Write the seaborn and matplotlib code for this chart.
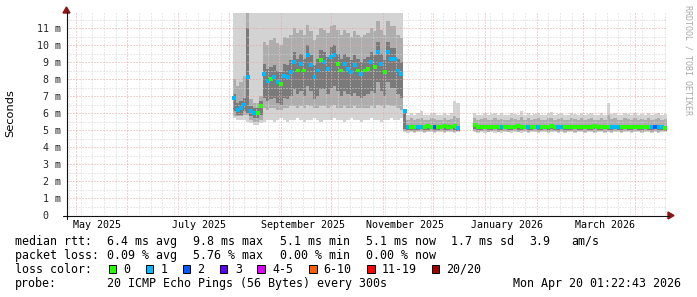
import numpy as np
import pandas as pd
import matplotlib
matplotlib.use("Agg")
import matplotlib.pyplot as plt
import matplotlib.dates as mdates
from matplotlib.ticker import MultipleLocator
from matplotlib.patches import Rectangle, Polygon
from matplotlib.lines import Line2D
import seaborn as sns

# ---------------- data ----------------
bin_start = "2025-08-03"      # first 2-day RRD bin with data
bin_days = 2
x_start = "2025-04-25 20:00"
x_end = "2026-04-20 01:22:43"
nan = np.nan

median_ms = [
    6.9, 6.2, 6.3, 6.5, 8.1, 6.1, 6.0, 6.0, 6.4, 8.3,
    7.9, 8.0, 8.1, 7.8, 7.7, 8.2, 8.1, 8.4, 9.0, 8.5,
    8.9, 8.5, 9.4, 8.8, 8.1, 8.5, 9.1, 9.0, 8.6, 9.3,
    9.4, 8.9, 8.5, 8.9, 8.6, 8.4, 8.8, 8.5, 8.3, 8.5,
    8.6, 9.0, 8.7, 9.6, 8.9, 8.4, 9.6, 9.2, 9.2, 8.5,
    8.3, 6.1,
    5.2, 5.15, 5.2, 5.15, 5.2, 5.2, 5.25, 5.2, 5.15, 5.2, 5.2, 5.25, 5.2, 5.2, 5.25, 5.1,
    nan, nan, nan, nan,
    5.3, 5.2, 5.15, 5.2, 5.2, 5.15, 5.2, 5.2, 5.15, 5.2,
    5.2, 5.15, 5.2, 5.25, 5.2, 5.2, 5.15, 5.2, 5.2, 5.2,
    5.15, 5.2, 5.2, 5.25, 5.2, 5.15, 5.2, 5.2, 5.2, 5.15,
    5.2, 5.2, 5.2, 5.15, 5.2, 5.2, 5.25, 5.2, 5.2, 5.15,
    5.2, 5.2, 5.2, 5.15, 5.2, 5.2, 5.2, 5.2, 5.15, 5.2,
    5.2, 5.2, 5.15, 5.2, 5.2, 5.2, 5.15, 5.1,
]

loss_pings = [
    1, 1, 1, 1, 1, 1, 1, 0, 0, 1,
    1, 0, 1, 1, 0, 1, 1, 1, 1, 0,
    1, 0, 1, 1, 1, 1, 0, 1, 1, 1,
    1, 0, 0, 1, 1, 1, 1, 0, 1, 0,
    0, 1, 0, 1, 1, 0, 1, 1, 1, 1,
    1, 1,
    1, 0, 0, 1, 1, 0, 0, 0, 2, 0, 0, 0, 0, 0, 0, 1,
    0, 0, 0, 0,
    0, 0, 0, 0, 0, 0, 0, 0, 1, 0,
    0, 0, 0, 0, 0, 0, 1, 0, 0, 1,
    0, 0, 0, 0, 0, 1, 1, 0, 0, 0,
    0, 0, 0, 0, 0, 0, 0, 0, 0, 0,
    0, 1, 1, 1, 0, 0, 0, 0, 0, 0,
    0, 0, 0, 1, 2, 1, 1, 0,
]

smoke_lo = [
    5.7, 5.6, 5.6, 5.6, 5.5, 5.4, 5.3, 5.3, 5.4,
    5.5, 5.6, 5.6, 5.5, 5.6, 5.7, 5.6, 5.5, 5.6, 5.6,
    5.7, 5.6, 5.5, 5.6, 5.6, 5.7, 5.6, 5.5, 5.6, 5.6,
    5.6, 5.7, 5.6, 5.6, 5.5, 5.6, 5.7, 5.6, 5.6, 5.5,
    5.6, 5.6, 5.7, 5.6, 5.6, 5.5, 5.6, 5.6, 5.7, 5.6,
    5.6, 5.7,
    4.9,
    4.85, 4.9, 4.85, 4.9, 4.9, 4.85, 4.9, 4.9, 4.85, 4.9, 4.9, 4.85, 4.9, 4.9, 4.85, 4.9,
    nan, nan, nan, nan,
    4.9, 4.85, 4.9, 4.85, 4.9, 4.9, 4.85, 4.9, 4.85, 4.9,
    4.9, 4.85, 4.9, 4.9, 4.85, 4.9, 4.85, 4.9, 4.9, 4.85,
    4.9, 4.9, 4.85, 4.9, 4.9, 4.85, 4.9, 4.85, 4.9, 4.9,
    4.85, 4.9, 4.9, 4.85, 4.9, 4.9, 4.85, 4.9, 4.9, 4.85,
    4.9, 4.85, 4.9, 4.9, 4.85, 4.9, 4.9, 4.85, 4.9, 4.9,
    4.85, 4.9, 4.9, 4.85, 4.9, 4.85, 4.9, 4.9,
]

smoke_hi = [
    12.5, 12.5, 12.5, 12.5, 12.5, 12.5, 12.5, 12.5, 12.5, 12.5,
    12.5, 12.5, 12.5, 12.5, 12.5, 12.5, 12.5, 12.5, 12.5, 12.5,
    12.5, 12.5, 12.5, 12.5, 12.5, 12.5, 12.5, 12.5, 12.5, 12.5,
    12.5, 12.5, 12.5, 12.5, 12.5, 12.5, 12.5, 12.5, 12.5, 12.5,
    12.5, 12.5, 12.5, 12.5, 12.5, 12.5, 12.5, 12.5, 12.5, 12.5,
    12.5, 6.2,
    5.9, 6.0, 5.9, 6.0, 6.1, 5.9, 5.9, 6.0, 6.0, 5.9, 5.9, 6.0, 5.9, 6.0, 6.7, 6.6,
    nan, nan, nan, nan,
    6.0, 5.9, 5.9, 6.0, 5.9, 5.95, 6.0, 5.9, 6.0, 5.9,
    5.9, 6.0, 5.95, 5.9, 6.1, 5.9, 6.0, 5.9, 5.95, 6.0,
    5.9, 5.9, 6.0, 6.05, 5.9, 5.95, 6.0, 5.9, 5.9, 6.0,
    5.95, 5.9, 6.0, 5.9, 5.95, 6.0, 5.9, 5.9, 6.0, 5.9,
    6.6, 5.95, 6.0, 5.9, 5.9, 6.0, 5.95, 5.9, 6.0, 5.9,
    5.95, 5.9, 6.0, 5.9, 5.95, 6.0, 5.9, 5.95,
]

mid_lo = [
    5.8, 5.8, 5.8, 5.9, 5.9, 5.6, 5.5, 5.5, 5.6,
    6.3, 6.2, 6.3, 6.3, 6.2, 6.2, 6.3, 6.3, 6.4, 6.4,
    6.3, 6.4, 6.3, 6.5, 6.4, 6.3, 6.3, 6.4, 6.4, 6.3,
    6.4, 6.5, 6.3, 6.3, 6.4, 6.3, 6.3, 6.4, 6.3, 6.3,
    6.3, 6.3, 6.4, 6.3, 6.5, 6.4, 6.3, 6.5, 6.4, 6.4,
    6.3, 6.2,
    4.95,
    4.95, 4.95, 4.9, 4.95, 4.95, 4.9, 4.95, 4.95, 4.9, 4.95, 4.95, 4.9, 4.95, 4.95, 4.9, 4.95,
    nan, nan, nan, nan,
    4.95, 4.9, 4.95, 4.95, 4.9, 4.95, 4.95, 4.9, 4.95, 4.95,
    4.9, 4.95, 4.95, 4.9, 4.95, 4.95, 4.9, 4.95, 4.95, 4.9,
    4.95, 4.95, 4.9, 4.95, 4.95, 4.9, 4.95, 4.9, 4.95, 4.95,
    4.9, 4.95, 4.95, 4.9, 4.95, 4.95, 4.9, 4.95, 4.95, 4.9,
    4.95, 4.9, 4.95, 4.95, 4.9, 4.95, 4.95, 4.9, 4.95, 4.95,
    4.9, 4.95, 4.95, 4.9, 4.95, 4.9, 4.95, 4.95,
]

mid_hi = [
    8.0, 7.6, 7.8, 8.2, 11.9, 6.8, 6.6, 6.6, 7.0,
    10.2, 10.0, 10.3, 10.4, 10.1, 10.0, 10.5, 10.4, 10.6, 11.0,
    10.7, 10.9, 10.6, 11.2, 10.8, 10.3, 10.6, 11.0, 10.9, 10.7,
    11.1, 11.2, 10.9, 10.6, 10.9, 10.7, 10.5, 10.8, 10.6, 10.5,
    10.6, 10.7, 11.0, 10.8, 11.4, 10.9, 10.6, 11.4, 11.1, 11.1,
    10.6, 10.4,
    6.15,
    5.6, 5.7, 5.6, 5.65, 5.7, 5.6, 5.6, 5.7, 5.65, 5.6, 5.6, 5.7, 5.6, 5.65, 5.8, 5.7,
    nan, nan, nan, nan,
    5.7, 5.6, 5.65, 5.7, 5.6, 5.6, 5.7, 5.6, 5.65, 5.6,
    5.6, 5.7, 5.65, 5.6, 5.75, 5.6, 5.7, 5.6, 5.65, 5.7,
    5.6, 5.6, 5.7, 5.7, 5.6, 5.65, 5.7, 5.6, 5.6, 5.7,
    5.65, 5.6, 5.7, 5.6, 5.65, 5.7, 5.6, 5.6, 5.7, 5.6,
    5.9, 5.65, 5.7, 5.6, 5.6, 5.7, 5.65, 5.6, 5.7, 5.6,
    5.65, 5.6, 5.7, 5.6, 5.65, 5.7, 5.6, 5.65,
]

core_lo = [
    6.1, 5.9, 5.9, 6.1, 6.0, 5.8, 5.7, 5.7, 5.9,
    6.9, 6.7, 6.8, 6.9, 6.6, 6.5, 6.9, 6.8, 7.0, 7.4,
    7.1, 7.3, 7.0, 7.6, 7.3, 6.8, 7.0, 7.4, 7.4, 7.1,
    7.5, 7.6, 7.3, 7.0, 7.3, 7.1, 7.0, 7.2, 7.0, 6.9,
    7.0, 7.1, 7.3, 7.2, 7.8, 7.3, 7.0, 7.8, 7.5, 7.5,
    7.1, 6.9,
    5.05,
    5.0, 5.0, 5.0, 5.0, 5.05, 5.0, 5.0, 5.05, 5.0, 5.0, 5.05, 5.0, 5.0, 5.05, 5.0, 4.95,
    nan, nan, nan, nan,
    5.05, 5.0, 5.0, 5.05, 5.0, 5.0, 5.05, 5.0, 5.0, 5.05,
    5.0, 5.0, 5.05, 5.0, 5.0, 5.05, 5.0, 5.0, 5.05, 5.0,
    5.0, 5.05, 5.0, 5.05, 5.0, 5.0, 5.05, 5.0, 5.0, 5.0,
    5.05, 5.0, 5.0, 5.05, 5.0, 5.0, 5.05, 5.0, 5.0, 5.05,
    5.0, 5.0, 5.05, 5.0, 5.0, 5.05, 5.0, 5.0, 5.05, 5.0,
    5.0, 5.05, 5.0, 5.0, 5.05, 5.0, 5.0, 4.95,
]

core_hi = [
    7.1, 6.6, 6.7, 6.9, 11.0, 6.4, 6.3, 6.3, 6.7,
    8.9, 8.6, 8.7, 8.8, 8.5, 8.4, 8.9, 8.8, 9.1, 9.6,
    9.2, 9.5, 9.2, 10.0, 9.4, 8.8, 9.2, 9.7, 9.6, 9.3,
    9.9, 10.0, 9.5, 9.2, 9.5, 9.3, 9.1, 9.4, 9.2, 9.0,
    9.2, 9.3, 9.6, 9.4, 10.2, 9.5, 9.1, 10.2, 9.8, 9.8,
    9.2, 9.0,
    6.15,
    5.3, 5.25, 5.3, 5.25, 5.3, 5.3, 5.35, 5.3, 5.25, 5.3, 5.3, 5.35, 5.3, 5.3, 5.35, 5.25,
    nan, nan, nan, nan,
    5.35, 5.3, 5.25, 5.3, 5.3, 5.25, 5.3, 5.3, 5.25, 5.3,
    5.3, 5.25, 5.3, 5.35, 5.3, 5.3, 5.25, 5.3, 5.3, 5.3,
    5.25, 5.3, 5.3, 5.35, 5.3, 5.25, 5.3, 5.3, 5.3, 5.25,
    5.3, 5.3, 5.3, 5.25, 5.3, 5.3, 5.35, 5.3, 5.3, 5.25,
    5.3, 5.3, 5.3, 5.25, 5.3, 5.3, 5.3, 5.3, 5.25, 5.3,
    5.3, 5.3, 5.25, 5.3, 5.3, 5.3, 5.25, 5.2,
]

y_ticks_ms = [0, 1, 2, 3, 4, 5, 6, 7, 8, 9, 10, 11]
y_tick_labels = [" 0", " 1 m", " 2 m", " 3 m", " 4 m", " 5 m", " 6 m", " 7 m",
                 " 8 m", " 9 m", "10 m", "11 m"]
month_labels = ["May 2025", "July 2025", "September 2025", "November 2025",
                "January 2026", "March 2026"]
month_label_dates = ["2025-05-14", "2025-07-14", "2025-09-14", "2025-11-14",
                     "2026-01-14", "2026-03-14"]

loss_names = ["0", "1", "2", "3", "4-5", "6-10", "11-19", "20/20"]
loss_colors = ["#26ff00", "#00b8ff", "#0059ff", "#5e00ff", "#dd00ff",
               "#ff5e00", "#ff0000", "#a10000"]

legend_row1 = ["median rtt:", "6.4 ms avg", "9.8 ms max", "5.1 ms min",
               "5.1 ms now", "1.7 ms sd", "3.9", "am/s"]
legend_row2 = ["packet loss:", "0.09 % avg", "5.76 % max", "0.00 % min", "0.00 % now"]
legend_row3_title = "loss color:"
legend_row4 = ["probe:", "20 ICMP Echo Pings (56 Bytes) every 300s",
               "Mon Apr 20 01:22:43 2026"]

# ---------------- layout (pixels) ----------------
W, H = 697, 297
AX_L, AX_R, AX_T, AX_B = 67, 667, 13, 215
Y_MAX = (AX_B - AX_T) / 17.0  # 17 px per ms

def fx(x):
    return x / W

def fy(y):
    return 1 - y / H

MONO = "DejaVu Sans Mono"

sns.set_style("white")
plt.rcParams["font.family"] = [MONO, "DejaVu Sans"]

fig = plt.figure(figsize=(W / 100, H / 100), dpi=100)
fig.patch.set_facecolor("white")
ax = fig.add_axes([fx(AX_L), fy(AX_B), (AX_R - AX_L) / W, (AX_B - AX_T) / H])
ax.set_facecolor("white")

df = pd.DataFrame({
    "median": median_ms, "loss": loss_pings,
    "s_lo": smoke_lo, "s_hi": smoke_hi,
    "m_lo": mid_lo, "m_hi": mid_hi,
    "c_lo": core_lo, "c_hi": core_hi,
})
df["start"] = pd.date_range(bin_start, periods=len(df), freq=f"{bin_days}D")
df["xnum"] = mdates.date2num(df["start"])
df["center"] = df["start"] + pd.Timedelta(days=bin_days / 2)
df["loss_cat"] = df["loss"].astype(str)
d = df.dropna(subset=["median"])

# smoke layers
for lo, hi, col in [("s_lo", "s_hi", "#d3d3d3"),
                    ("m_lo", "m_hi", "#adadad"),
                    ("c_lo", "c_hi", "#7a7a7a")]:
    ax.bar(d["xnum"], d[hi] - d[lo], bottom=d[lo], width=bin_days,
           align="edge", color=col, linewidth=0, zorder=1)

# median markers coloured by loss
palette = {str(i): c for i, c in enumerate(loss_colors)}
sns.scatterplot(data=d, x="center", y="median", hue="loss_cat", palette=palette,
                marker="s", s=8, linewidth=0, legend=False, ax=ax, zorder=5)

# axes ranges
ax.set_xlim(mdates.date2num(pd.Timestamp(x_start)), mdates.date2num(pd.Timestamp(x_end)))
ax.set_ylim(0, Y_MAX)
ax.set_xlabel("")
ax.set_ylabel("")
for s in ax.spines.values():
    s.set_visible(False)

# grid
ax.set_axisbelow(False)
ax.xaxis.set_major_locator(mdates.MonthLocator())
ax.xaxis.set_minor_locator(mdates.WeekdayLocator(byweekday=mdates.SU))
ax.yaxis.set_major_locator(MultipleLocator(1))
ax.yaxis.set_minor_locator(MultipleLocator(0.5))
dots = (0, (1, 2))
ax.grid(which="minor", color="#d4d4d4", linestyle=dots, linewidth=0.72)
ax.grid(which="major", color="#e6a4a4", linestyle=dots, linewidth=0.72)

ax.set_yticks(y_ticks_ms)
ax.set_yticklabels(y_tick_labels, fontsize=7.2, family=MONO, ha="left")
ax.tick_params(axis="y", which="major", length=2, width=0.7, color="#303030",
               direction="out", pad=19.8)
ax.tick_params(axis="y", which="minor", length=1.2, width=0.7, color="#606060",
               direction="out")
ax.tick_params(axis="x", which="both", labelbottom=False, direction="inout",
               length=2.2, width=0.7, color="#c08080")
ax.tick_params(axis="x", which="minor", length=1.5, color="#909090")

# month labels (mid-month, like rrdtool)
for lab, dt in zip(month_labels, month_label_dates):
    ax.text(mdates.date2num(pd.Timestamp(dt)), -12.5 / (AX_B - AX_T), lab,
            transform=ax.get_xaxis_transform(), ha="center", va="baseline",
            fontsize=7.2, family=MONO, color="black")

# axis lines and arrows
fig.add_artist(Line2D([fx(63), fx(669)], [fy(215.5), fy(215.5)], color="#101010",
                      lw=0.8, transform=fig.transFigure))
fig.add_artist(Line2D([fx(66.5), fx(66.5)], [fy(219), fy(12)], color="#101010",
                      lw=0.8, transform=fig.transFigure))
arrow_col = "#8e1414"
fig.add_artist(Polygon([(fx(668), fy(212)), (fx(668), fy(219)), (fx(674), fy(215.5))],
                       closed=True, color=arrow_col, transform=fig.transFigure))
fig.add_artist(Polygon([(fx(63), fy(13)), (fx(70), fy(13)), (fx(66.5), fy(7))],
                       closed=True, color=arrow_col, transform=fig.transFigure))

# vertical label and watermark
fig.text(fx(10.5), fy(113.5), "Seconds", rotation=90, ha="center", va="center",
         fontsize=8.2, family="DejaVu Sans", color="black")
fig.text(fx(688), fy(60), "RRDTOOL / TOBI OETIKER", rotation=270, ha="center",
         va="center", fontsize=6.0, family=MONO, color="#a9a9a9")

# legend text
LF = 8.4
def put(x, y, s):
    fig.text(fx(x), fy(y), s, ha="left", va="baseline", fontsize=LF,
             family=MONO, color="black")

row1_x = [15.3, 106.6, 193.5, 279.8, 365.7, 451.0, 529.4, 571.4]
for s, x in zip(legend_row1, row1_x):
    put(x, 245, s)
row2_x = [15.3, 106.6, 193.5, 279.8, 365.7]
for s, x in zip(legend_row2, row2_x):
    put(x, 259, s)
put(15.3, 273, legend_row3_title)
box_x = [108.5, 145.8, 182.8, 220.0, 257.3, 309.0, 367.2, 432.0]
lab_x = [123.2, 160.6, 197.6, 234.9, 272.0, 323.5, 381.5, 446.2]
for name, col, bx, lx in zip(loss_names, loss_colors, box_x, lab_x):
    fig.add_artist(Rectangle((fx(bx), fy(272.5)), 7.5 / W, 8 / H, facecolor=col,
                             edgecolor="black", lw=0.7, transform=fig.transFigure))
    put(lx, 273, name)
row4_x = [15.3, 106.6, 512.6]
for s, x in zip(legend_row4, row4_x):
    put(x, 287, s)

fig.savefig("out.png", dpi=100, facecolor="white")
